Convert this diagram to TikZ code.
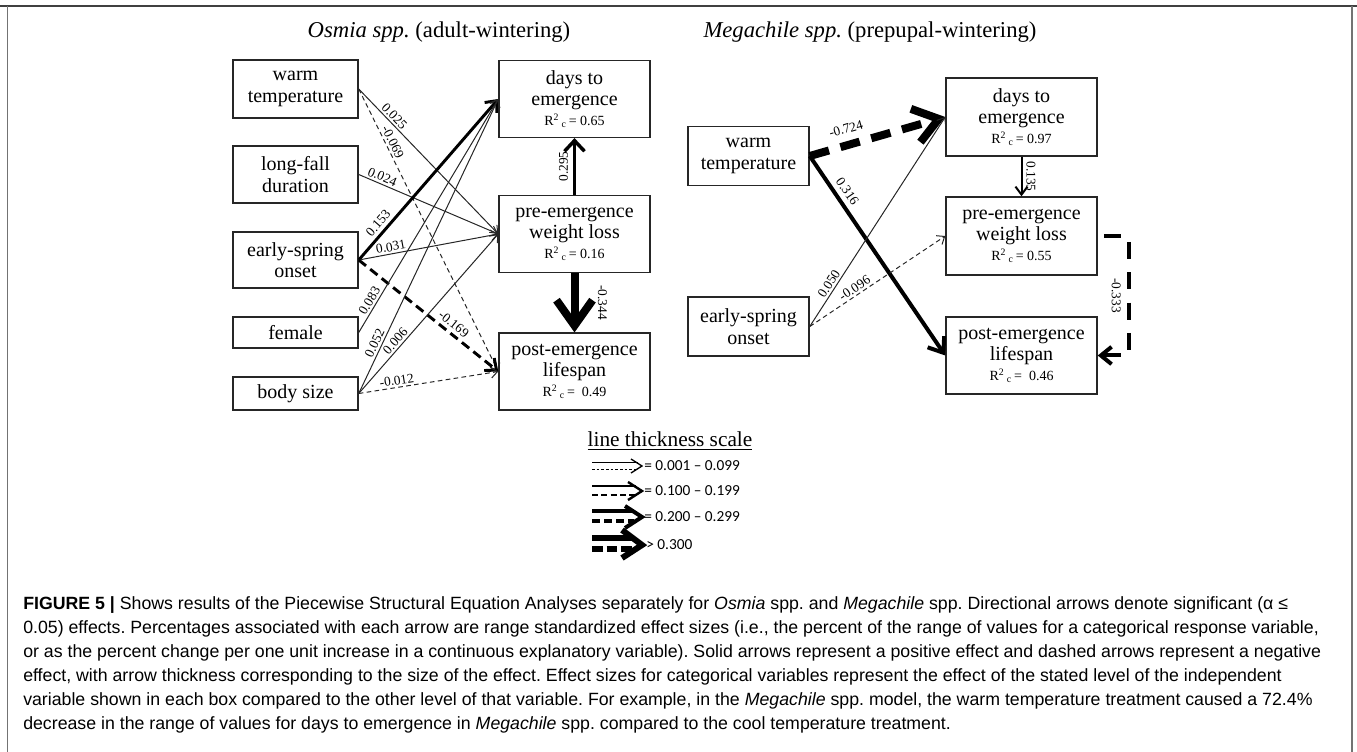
\documentclass[tikz,border=0pt]{standalone}
\usepackage{fontspec}
\setmainfont{Liberation Serif}
\newfontfamily\capfont{Liberation Sans}
\newfontfamily\legfont{Carlito}
\usetikzlibrary{arrows.meta}
\begin{document}
\frenchspacing
\begin{tikzpicture}[x=0.75pt,y=-0.75pt,
  box/.style={draw=black!85, line width=1.1pt, inner sep=0pt, align=center,
    font=\fontsize{15}{16}\selectfont},
  lbox/.style={box, minimum width=93.75pt},
  rbox/.style={box, minimum width=113.25pt, minimum height=57.5pt},
  mlbox/.style={box, minimum width=90.75pt, minimum height=44pt},
  lab/.style={font=\fontsize{10}{11}\selectfont, inner sep=1.5pt, sloped, above},
  ttl/.style={font=\fontsize{17}{19}\selectfont},
  captxt/.style={anchor=base west, inner sep=0pt, font=\capfont\fontsize{13.3}{15}\selectfont},
  legtxt/.style={anchor=west, inner sep=0pt, font=\legfont\fontsize{11.5}{12}\selectfont},
  aone/.style={draw=black!85, line width=0.75pt, -{Straight Barb[length=5pt,width=8pt]}},
  aoned/.style={aone, dash pattern=on 3.5pt off 2.5pt},
  atwo/.style={draw=black, line width=2.2pt, -{Straight Barb[length=7pt,width=12pt]}},
  atwod/.style={atwo, dash pattern=on 7pt off 4pt},
  frameline/.style={draw=black!55, line width=1.2pt}
]
\useasboundingbox (0,0) rectangle (1357,752);
% frame
\draw[draw=black!75, line width=1.5pt] (0,6) -- (1357,6);
\draw[frameline] (7.5,6) -- (7.5,752);
\draw[frameline] (1352,6) -- (1352,752);

% titles
\node[ttl] (t1) at (439,32) {\textit{Osmia spp.} (adult-wintering)};
\node[ttl] (t2) at (870,32) {\textit{Megachile spp.} (prepupal-wintering)};

% Osmia boxes
\node[lbox, minimum height=43.5pt] (warm) at (295.5,89) {warm\\temperature};
\node[lbox, minimum height=42.75pt] (fall) at (295.5,174.5) {long-fall\\duration};
\node[lbox, minimum height=42pt] (early) at (295.5,260) {early-spring\\onset};
\node[lbox, minimum height=23.25pt] (female) at (295.5,332.5) {female};
\node[lbox, minimum height=24.75pt] (body) at (295.5,393.5) {body size};
\node[rbox] (days) at (574.5,99) {days to\\emergence\\[-1pt]{\fontsize{10.5}{12}\selectfont R\textsuperscript{2}\,\textsubscript{c}\,= 0.65}};
\node[rbox] (pre) at (574.5,234) {pre-emergence\\weight loss\\[-1pt]{\fontsize{10.5}{12}\selectfont R\textsuperscript{2}\,\textsubscript{c}\,= 0.16}};
\node[rbox] (post) at (574.5,371.5) {post-emergence\\lifespan\\[-1pt]{\fontsize{10.5}{12}\selectfont R\textsuperscript{2}\,\textsubscript{c}\,=\ \ 0.49}};

% Osmia connectors
\draw[aone] (warm.east) -- node[lab, pos=0.22] {0.025} (pre.west);
\draw[aoned] (warm.east) -- node[lab, pos=0.2] {-0.069} (post.west);
\draw[aone] (fall.east) -- node[lab, pos=0.15] {0.024} (pre.west);
\draw[atwo] (early.east) -- node[lab, pos=0.19, above=1pt] {0.153} (days.west);
\draw[aone] (early.east) -- node[lab, pos=0.24] {0.031} (pre.west);
\draw[atwod] (early.east) -- node[lab, pos=0.64, above=1pt] {-0.169} (post.west);
\draw[aone] (female.east) -- node[lab, pos=0.12] {0.083} (days.west);
\draw[aone] (body.east) -- node[lab, pos=0.16] {0.052} (days.west);
\draw[aone] (body.east) -- node[lab, pos=0.3] {0.006} (pre.west);
\draw[aoned] (body.east) -- node[lab, pos=0.28] {-0.012} (post.west);
\draw[draw=black, line width=2.6pt, -{Straight Barb[length=8pt,width=15pt]}] (pre.north) -- node[lab, midway, above=2pt] {0.295} (days.south);
\draw[draw=black, line width=6pt, -{Straight Barb[length=19pt,width=27pt]}] (pre.south) -- node[lab, pos=0.5, above=13pt] {-0.344} (post.north);

% Megachile boxes
\node[mlbox] (mwarm) at (748.5,156) {warm\\temperature};
\node[mlbox] (mearly) at (748.5,326.5) {early-spring\\onset};
\node[rbox, minimum height=58.5pt] (mdays) at (1021.5,117) {days to\\emergence\\[-1pt]{\fontsize{10.5}{12}\selectfont R\textsuperscript{2}\,\textsubscript{c}\,= 0.97}};
\node[rbox, minimum height=58.5pt] (mpre) at (1021.5,236) {pre-emergence\\weight loss\\[-1pt]{\fontsize{10.5}{12}\selectfont R\textsuperscript{2}\,\textsubscript{c}\,= 0.55}};
\node[rbox, minimum height=57.75pt] (mpost) at (1021.5,355.5) {post-emergence\\lifespan\\[-1pt]{\fontsize{10.5}{12}\selectfont R\textsuperscript{2}\,\textsubscript{c}\,=\ \ 0.46}};

% Megachile connectors
\draw[draw=black, line width=6pt, dash pattern=on 15pt off 9pt, -{Straight Barb[length=18pt,width=26pt]}] (mwarm.east) -- node[lab, pos=0.3, above=4pt] {-0.724} (mdays.west);
\draw[draw=black, line width=3pt, -{Straight Barb[length=10pt,width=15pt]}] (mwarm.east) -- node[lab, pos=0.21, above=2pt] {0.316} (mpost.west);
\draw[aone] (mearly.east) -- node[lab, pos=0.185] {0.050} (mdays.west);
\draw[aoned] (mearly.east) -- node[lab, pos=0.36] {-0.096} (mpre.west);
\draw[draw=black, line width=1.5pt, -{Straight Barb[length=6pt,width=9pt]}] (mdays.south) -- node[lab, midway, above=1.5pt] {0.135} (mpre.north);
\draw[draw=black, line width=3pt, dash pattern=on 12.75pt off 10pt, shorten <=5pt, -{Straight Barb[length=8pt,width=13pt]}]
  (mpre.east) -- ++(31,0) coordinate (e1) -- node[lab, below=3pt, midway] {-0.333} (e1 |- mpost.east) -- (mpost.east);

% legend
\node[font=\fontsize{16}{18}\selectfont, inner sep=0pt] (legt) at (670,441) {\underline{line thickness scale}};
% row 1
\draw[line width=0.75pt] (592,462) -- (638,462);
\draw[line width=0.75pt, dash pattern=on 2pt off 1.5pt] (592,469) -- (638,469);
\draw[line width=1pt] (631,459) -- (642,466) -- (631,473);
\node[legtxt] (l1) at (644,466) {= 0.001 – 0.099};
% row 2
\draw[line width=1.5pt] (592,486) -- (636,486);
\draw[line width=1.5pt, dash pattern=on 4.5pt off 2.5pt] (592,495) -- (636,495);
\draw[line width=1.8pt] (628,482) -- (642,491) -- (628,500);
\node[legtxt] (l2) at (644,491) {= 0.100 – 0.199};
% row 3
\draw[line width=3pt] (592,511) -- (634,511);
\draw[line width=3pt, dash pattern=on 6pt off 3pt] (592,521) -- (634,521);
\draw[line width=3pt] (625,506) -- (642,517) -- (625,528);
\node[legtxt] (l3) at (644,517) {= 0.200 – 0.299};
% row 4
\draw[line width=4.5pt] (592,538) -- (632,538);
\draw[line width=4.5pt, dash pattern=on 8pt off 3pt] (592,549) -- (632,549);
\draw[line width=4.5pt] (622,530) -- (642,545) -- (622,558);
\node[legtxt] (l4) at (646,545) {> 0.300};

% caption
\node[captxt] (c1) at (23,609) {\textbf{FIGURE 5 |} Shows results of the Piecewise Structural Equation Analyses separately for \textit{Osmia} spp. and \textit{Megachile} spp. Directional arrows denote significant (α ≤};
\node[captxt] (c2) at (23,633) {0.05) effects. Percentages associated with each arrow are range standardized effect sizes (i.e., the percent of the range of values for a categorical response variable,};
\node[captxt] (c3) at (23,657) {or as the percent change per one unit increase in a continuous explanatory variable). Solid arrows represent a positive effect and dashed arrows represent a negative};
\node[captxt] (c4) at (23,681) {effect, with arrow thickness corresponding to the size of the effect. Effect sizes for categorical variables represent the effect of the stated level of the independent};
\node[captxt] (c5) at (23,705) {variable shown in each box compared to the other level of that variable. For example, in the \textit{Megachile} spp. model, the warm temperature treatment caused a 72.4\%};
\node[captxt] (c6) at (23,729) {decrease in the range of values for days to emergence in \textit{Megachile} spp. compared to the cool temperature treatment.};
\end{tikzpicture}
\end{document}
